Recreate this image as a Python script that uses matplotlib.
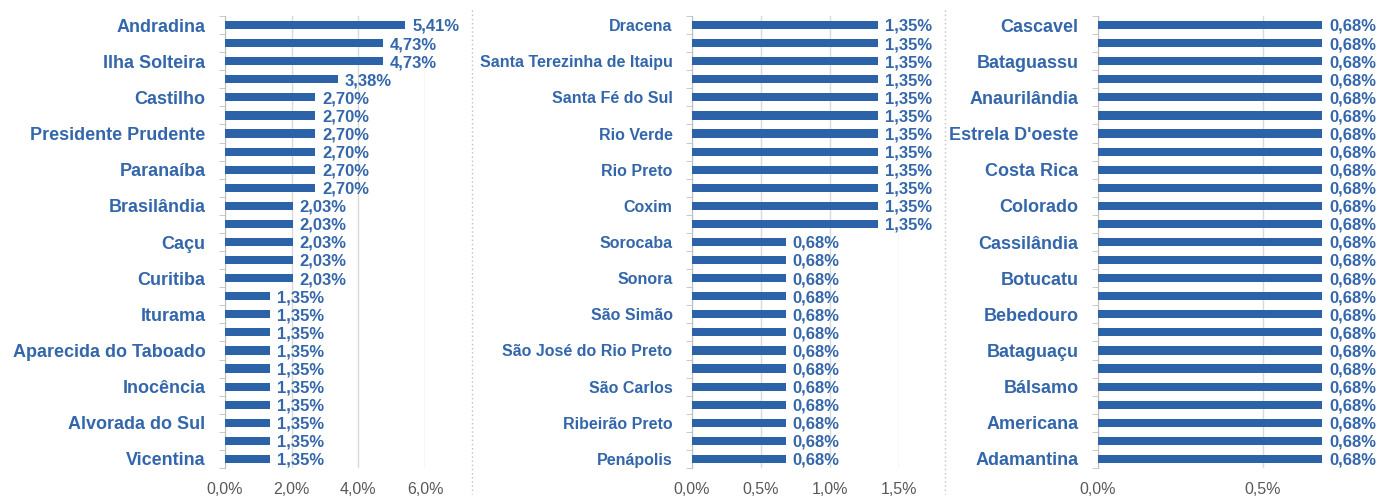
import matplotlib.pyplot as plt
from matplotlib.lines import Line2D

# panel 1
names1 = ["Andradina", "", "Ilha Solteira", "", "Castilho", "", "Presidente Prudente", "",
          "Paranaíba", "", "Brasilândia", "", "Caçu", "", "Curitiba", "", "Iturama", "",
          "Aparecida do Taboado", "", "Inocência", "", "Alvorada do Sul", "", "Vicentina"]
vals1 = [5.41, 4.73, 4.73, 3.38, 2.70, 2.70, 2.70, 2.70, 2.70, 2.70, 2.03, 2.03, 2.03,
         2.03, 2.03, 1.35, 1.35, 1.35, 1.35, 1.35, 1.35, 1.35, 1.35, 1.35, 1.35]

# panel 2
names2 = ["Dracena", "", "Santa Terezinha de Itaipu", "", "Santa Fé do Sul", "", "Rio Verde", "",
          "Rio Preto", "", "Coxim", "", "Sorocaba", "", "Sonora", "", "São Simão", "",
          "São José do Rio Preto", "", "São Carlos", "", "Ribeirão Preto", "", "Penápolis"]
vals2 = [1.35] * 12 + [0.68] * 13

# panel 3
names3 = ["Cascavel", "", "Bataguassu", "", "Anaurilândia", "", "Estrela D'oeste", "",
          "Costa Rica", "", "Colorado", "", "Cassilândia", "", "Botucatu", "", "Bebedouro", "",
          "Bataguaçu", "", "Bálsamo", "", "Americana", "", "Adamantina"]
vals3 = [0.68] * 25

ticks1 = [0, 2, 4, 6]
ticks2 = [0, 0.5, 1.0, 1.5]
ticks3 = [0, 0.5]

blue = "#2B62A8"
lblue = "#3366AA"
plt.rcParams["font.family"] = ["Liberation Sans", "DejaVu Sans"]

fig = plt.figure(figsize=(13.93, 4.96), dpi=100)
W, H = 1393, 496
top, bottom = 16, 468

panels = [
    (names1, vals1, ticks1, 6.0, 225, 425, 13),
    (names2, vals2, ticks2, 1.5, 692, 899, 11.5),
    (names3, vals3, ticks3, 0.8, 1098, 1362, 13),
]

for names, vals, ticks, xmax, x0, x1, fs in panels:
    ax = fig.add_axes([x0 / W, 1 - bottom / H, (x1 - x0) / W, (bottom - top) / H])
    n = len(vals)
    y = list(range(n))
    ax.barh(y, vals, height=0.45, color=blue, zorder=3)
    for yi, v in zip(y, vals):
        ax.annotate(f"{v:.2f}%".replace(".", ","), (v, yi), xytext=(5, -1),
                    textcoords="offset points", va="center", ha="left",
                    color=lblue, fontsize=12, fontweight="bold")
    ax.set_ylim(n - 0.5, -0.5)
    ax.set_xlim(0, xmax)
    ax.set_yticks(y)
    ax.set_yticklabels(names, fontsize=fs, fontweight="bold", color=lblue)
    ax.set_yticks([i - 0.5 for i in range(n + 1)], minor=True)
    ax.tick_params(axis="y", which="major", length=0, pad=14)
    ax.tick_params(axis="y", which="minor", length=4, color="#BFBFBF")
    ax.set_xticks(ticks)
    ax.set_xticklabels([f"{t:.1f}%".replace(".", ",") for t in ticks],
                       fontsize=11.5, color="#595959")
    ax.tick_params(axis="x", length=0, pad=10)
    ax.grid(axis="x", color="#D9D9D9", linewidth=1, zorder=0)
    for s in ["top", "right", "bottom"]:
        ax.spines[s].set_visible(False)
    ax.spines["left"].set_color("#BFBFBF")

for xs in [472, 945]:
    fig.add_artist(Line2D([xs / W, xs / W], [1 - 10 / H, 1 - 494 / H],
                          color="#BFBFBF", linestyle=(0, (1, 2)), linewidth=1))

fig.savefig("out.png", dpi=100)
